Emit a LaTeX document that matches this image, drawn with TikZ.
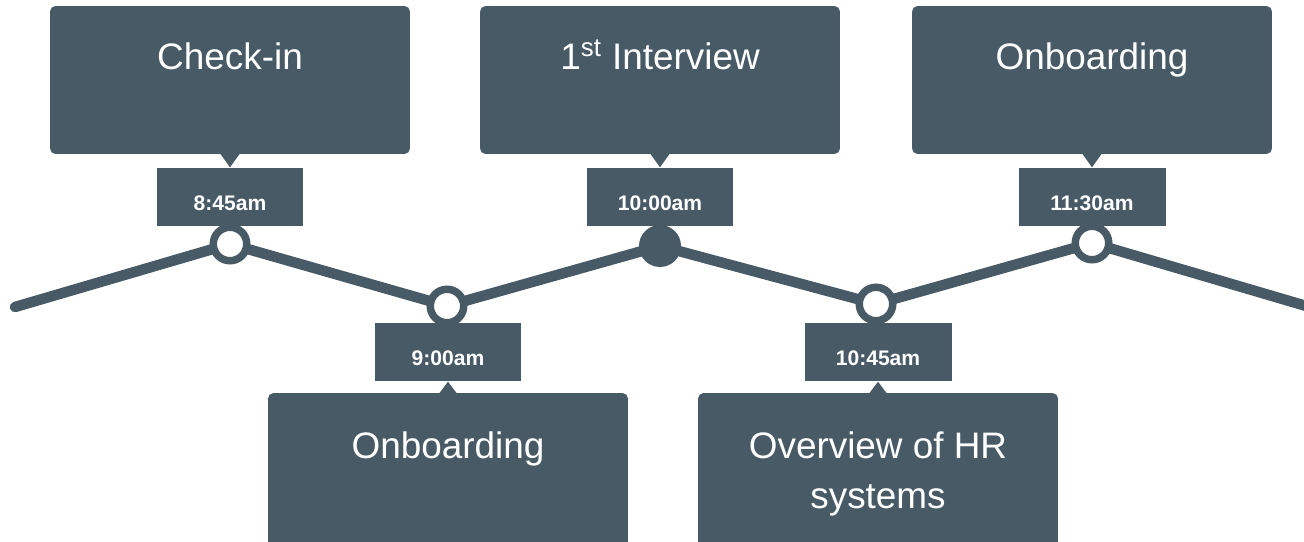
\documentclass[tikz,border=0pt]{standalone}
\usepackage{fontspec}
\setmainfont{Liberation Sans}
\usetikzlibrary{calc,positioning}
\definecolor{slate}{HTML}{475A66}

\begin{document}
\begin{tikzpicture}[x=0.02cm,y=0.02cm,
		panel/.style={fill=slate,rounded corners=0.11cm,minimum width=7.2cm,minimum height=2.96cm,inner sep=0pt},
		title/.style={text=white,font=\fontsize{21pt}{28.4pt}\selectfont,align=center,inner sep=0pt},
		stamp/.style={fill=slate,text=white,font=\fontsize{12pt}{14pt}\selectfont\bfseries,minimum width=2.94cm,inner sep=0pt,text height=0.85cm,text depth=0.31cm},
		ring/.style={circle,draw=slate,fill=white,line width=0.15cm,minimum size=0.67cm,inner sep=0pt},
		hub/.style={circle,fill=slate,minimum size=0.84cm,inner sep=0pt},
		track/.style={draw=slate,line width=0.21cm,line cap=round}]
		\useasboundingbox (0,0) rectangle (1304,541);
		% top row
		\node[panel] (p1) at (230,461) {};
		\node[panel] (p2) at (660,461) {};
		\node[panel] (p3) at (1092,461) {};
		\node[title,below=0.74cm of p1.north] (l1) {Check-in};
		\node[title,below=0.74cm of p2.north] (l2) {1\smash{\textsuperscript{st}} Interview};
		\node[title,below=0.74cm of p3.north] (l3) {Onboarding};
		\node[stamp,below=0.26cm of p1] (t1) {8:45am};
		\node[stamp,below=0.26cm of p2] (t2) {10:00am};
		\node[stamp,below=0.26cm of p3] (t3) {11:30am};
		% bottom row
		\node[panel,minimum height=3.2cm] (p4) at (448,68) {};
		\node[panel,minimum height=3.2cm] (p5) at (878,68) {};
		\node[title,below=0.78cm of p4.north] (l4) {Onboarding};
		\node[title,below=0.78cm of p5.north] (l5) {Overview of HR\\systems};
		\node[stamp,above=0.22cm of p4] (t4) {9:00am};
		\node[stamp,above=0.22cm of p5] (t5) {10:45am};
		% pointers
		\foreach \p/\t in {p1/t1,p2/t2,p3/t3}
			\fill[slate] ($(\p.south)+(-10,1)$) -- ($(\p.south)+(10,1)$) -- (\t.north) -- cycle;
		\foreach \p/\t in {p4/t4,p5/t5}
			\fill[slate] ($(\p.north)+(-9,-1)$) -- ($(\p.north)+(9,-1)$) -- (\t.south) -- cycle;
		% timeline
		\coordinate (w) at (15,234);
		\coordinate (c1) at (230,297);
		\coordinate (c2) at (447,235);
		\coordinate (c3) at (660,295);
		\coordinate (c4) at (876,237);
		\coordinate (c5) at (1092,298);
		\coordinate (e) at (1330,228);
		\draw[track] (w) -- (c1) -- (c2) -- (c3) -- (c4) -- (c5) -- (e);
		\node[ring] (d1) at (c1) {};
		\node[ring] (d2) at (c2) {};
		\node[hub] (d3) at (c3) {};
		\node[ring] (d4) at (c4) {};
		\node[ring] (d5) at (c5) {};
\end{tikzpicture}
\end{document}
